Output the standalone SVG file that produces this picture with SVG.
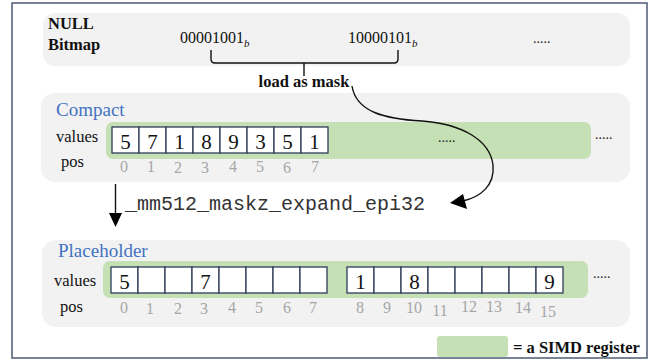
<svg xmlns="http://www.w3.org/2000/svg" width="655" height="362" viewBox="0 0 655 362" font-family="'Liberation Serif', 'Times New Roman', serif">
  <style>
    text { font-family: "Liberation Serif", "Times New Roman", serif; }
    .panel { fill: #f2f2f2; }
    .reg { fill: #c5e0b4; }
    .cell { fill: #ffffff; stroke: #2f3d5a; stroke-width: 1.3; }
    .bold { font-weight: bold; fill: #111; }
    .title { font-size: 19px; fill: #4472c4; }
    .lbl { font-size: 16.5px; fill: #111; }
    .val { font-size: 21px; fill: #111; text-anchor: middle; }
    .pos { font-size: 16px; fill: #a6a6a6; text-anchor: middle; }
    .dots { font-size: 14px; fill: #222; }
    text.code { font-family: "Liberation Mono", "Courier New", monospace; font-size: 20px; fill: #333; }
    .wire { fill: none; stroke: #111; stroke-width: 1.4; }
  </style>

  <!-- outer frame -->
  <rect x="12" y="3" width="635" height="355" fill="#ffffff" stroke="#4d5b73" stroke-width="1.5"/>

  <!-- NULL bitmap row -->
  <g id="null-bitmap">
    <rect class="panel" x="43" y="13" width="587" height="53" rx="12"/>
    <text class="bold" x="48" y="29" font-size="16.5">NULL</text>
    <text class="bold" x="48" y="50" font-size="16.5">Bitmap</text>
    <text x="180" y="43" font-size="16" fill="#111">00001001<tspan font-style="italic" font-size="11" dy="4">b</tspan></text>
    <text x="348" y="43" font-size="16" fill="#111">10000101<tspan font-style="italic" font-size="11" dy="4">b</tspan></text>
    <text class="dots" x="533" y="43">.....</text>
  </g>

  <!-- brace and mask label -->
  <g id="mask">
    <path class="wire" d="M211,50 V59 Q211,63 215,63 H394 Q398,63 398,59 V50 M304,63 V76"/>
    <text class="bold" x="304" y="87" font-size="16.5" text-anchor="middle">load as mask</text>
  </g>

  <!-- Compact layout -->
  <g id="compact">
    <rect class="panel" x="41" y="93" width="589" height="89" rx="14"/>
    <text class="title" x="56" y="116">Compact</text>
    <text class="lbl" x="56" y="142">values</text>
    <text class="lbl" x="61" y="167">pos</text>
    <rect class="reg" x="106" y="122" width="485" height="37" rx="7"/>
    <g>
      <rect class="cell" x="112" y="127" width="27" height="26"/>
      <rect class="cell" x="139" y="127" width="27" height="26"/>
      <rect class="cell" x="166" y="127" width="27" height="26"/>
      <rect class="cell" x="193" y="127" width="27" height="26"/>
      <rect class="cell" x="220" y="127" width="27" height="26"/>
      <rect class="cell" x="247" y="127" width="27" height="26"/>
      <rect class="cell" x="274" y="127" width="27" height="26"/>
      <rect class="cell" x="301" y="127" width="27" height="26"/>
    </g>
    <g class="val">
      <text x="125.5" y="149">5</text>
      <text x="152.5" y="149">7</text>
      <text x="179.5" y="149">1</text>
      <text x="206.5" y="149">8</text>
      <text x="233.5" y="149">9</text>
      <text x="260.5" y="149">3</text>
      <text x="287.5" y="149">5</text>
      <text x="314.5" y="149">1</text>
    </g>
    <g class="pos">
      <text x="124" y="172">0</text>
      <text x="151" y="172">1</text>
      <text x="178" y="173">2</text>
      <text x="205" y="173">3</text>
      <text x="233" y="172">4</text>
      <text x="260" y="172">5</text>
      <text x="287" y="173">6</text>
      <text x="315" y="172">7</text>
    </g>
    <text class="dots" x="438" y="142">.....</text>
    <text class="dots" x="595" y="139">.....</text>
  </g>

  <!-- expand instruction -->
  <g id="expand">
    <text class="code" x="125" y="210">_mm512_maskz_expand_epi32</text>
  </g>

  <!-- Placeholder layout -->
  <g id="placeholder">
    <rect class="panel" x="42" y="240" width="588" height="87" rx="14"/>
    <text class="title" x="58" y="257">Placeholder</text>
    <text class="lbl" x="54" y="286">values</text>
    <text class="lbl" x="60" y="312">pos</text>
    <rect class="reg" x="103" y="261" width="485" height="37" rx="7"/>
    <g>
      <rect class="cell" x="111" y="267" width="27" height="26"/>
      <rect class="cell" x="138" y="267" width="27" height="26"/>
      <rect class="cell" x="165" y="267" width="27" height="26"/>
      <rect class="cell" x="192" y="267" width="27" height="26"/>
      <rect class="cell" x="219" y="267" width="27" height="26"/>
      <rect class="cell" x="246" y="267" width="27" height="26"/>
      <rect class="cell" x="273" y="267" width="27" height="26"/>
      <rect class="cell" x="300" y="267" width="27" height="26"/>
      <rect class="cell" x="347" y="267" width="27" height="26"/>
      <rect class="cell" x="374" y="267" width="27" height="26"/>
      <rect class="cell" x="401" y="267" width="27" height="26"/>
      <rect class="cell" x="428" y="267" width="27" height="26"/>
      <rect class="cell" x="455" y="267" width="27" height="26"/>
      <rect class="cell" x="482" y="267" width="27" height="26"/>
      <rect class="cell" x="509" y="267" width="27" height="26"/>
      <rect class="cell" x="536" y="267" width="27" height="26"/>
    </g>
    <g class="val">
      <text x="124.5" y="289">5</text>
      <text x="205.5" y="289">7</text>
      <text x="360.5" y="289">1</text>
      <text x="414.5" y="289">8</text>
      <text x="549.5" y="289">9</text>
    </g>
    <g class="pos">
      <text x="124" y="313">0</text>
      <text x="150" y="314">1</text>
      <text x="178" y="314">2</text>
      <text x="204" y="314">3</text>
      <text x="232" y="313">4</text>
      <text x="259" y="313">5</text>
      <text x="287" y="313">6</text>
      <text x="313" y="313">7</text>
      <text x="360" y="313">8</text>
      <text x="387" y="313">9</text>
      <text x="414" y="313">10</text>
      <text x="440" y="316">11</text>
      <text x="469" y="312">12</text>
      <text x="494" y="312">13</text>
      <text x="523" y="313">14</text>
      <text x="548" y="317">15</text>
    </g>
    <text class="dots" x="593" y="278">.....</text>
  </g>

  <!-- connectors -->
  <g id="connectors">
    <path class="wire" d="M115.5,184 V214"/>
    <polygon points="109,213 122,213 115.5,227" fill="#000"/>
    <path class="wire" d="M352,86 C356,112 385,119 422,121 C462,124 490,140 493,165 C495,186 480,197 463,201"/>
    <polygon points="450,203 463,194 467,209" fill="#000"/>
  </g>

  <!-- legend -->
  <g id="legend">
    <rect class="reg" x="437" y="336" width="71" height="21" rx="3"/>
    <text class="bold" x="513" y="353" font-size="16.5">= a SIMD register</text>
  </g>
</svg>
